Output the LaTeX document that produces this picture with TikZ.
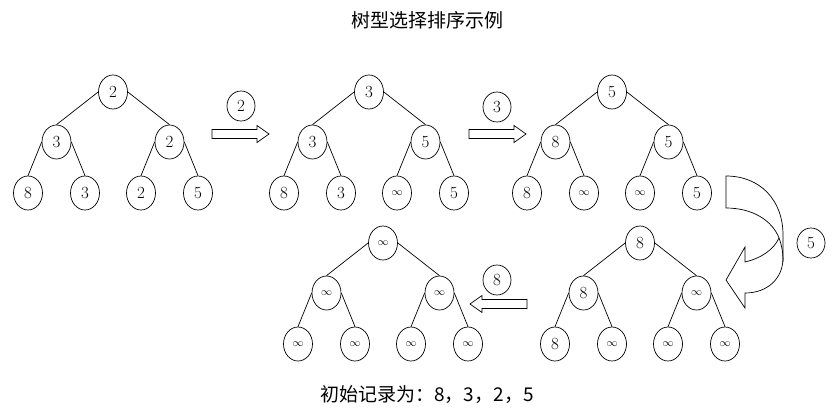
\documentclass[tikz,border=0pt]{standalone}
\usepackage{fontspec}
\newfontfamily\cjk{Noto Sans CJK SC}
\usetikzlibrary{shapes.geometric}
\newcommand\myinf{{\fontsize{11}{12}\selectfont$\infty$}}
\tikzset{
  nd/.style={ellipse, draw, line width=0.7pt, minimum width=29pt, minimum height=34pt, inner sep=0pt, font=\fontsize{17}{20}\selectfont},
  lbl/.style={ellipse, draw, line width=0.7pt, minimum width=28pt, minimum height=30pt, inner sep=0pt, font=\fontsize{17}{20}\selectfont},
  link/.style={line width=0.7pt},
  blk/.style={draw, fill=white, line width=0.7pt, line join=miter},
}
\newcommand\drawtree[8]{%
  \node[nd] (#1r) at (0,0) {#2};
  \node[nd] (#1a) at (-56.5,50) {#3};
  \node[nd] (#1b) at (56.5,50) {#4};
  \node[nd] (#1c) at (-85,101) {#5};
  \node[nd] (#1d) at (-28,101) {#6};
  \node[nd] (#1e) at (28,101) {#7};
  \node[nd] (#1f) at (85,101) {#8};
  \draw[link] (#1r.west) -- (#1a.north);
  \draw[link] (#1r.east) -- (#1b.north);
  \draw[link] (#1a.west) -- (#1c.north);
  \draw[link] (#1a.east) -- (#1d.north);
  \draw[link] (#1b.west) -- (#1e.north);
  \draw[link] (#1b.east) -- (#1f.north);
}
\newcommand\blockarrow{%
  \draw[blk] (0,-4.5) -- (45,-4.5) -- (45,-8.5) -- (57,0) -- (45,8.5) -- (45,4.5) -- (0,4.5) -- cycle;
}
\begin{document}
\begin{tikzpicture}[x=1pt,y=-1pt]
\useasboundingbox (0,0) rectangle (835,409);
\node[font=\cjk\fontsize{19}{22}\selectfont] (title) at (427,20) {树型选择排序示例};
\begin{scope}[shift={(113,92)}]
  \drawtree{a}{2}{3}{2}{8}{3}{2}{5}
\end{scope}
\begin{scope}[shift={(369,92)}]
  \drawtree{b}{3}{3}{5}{8}{3}{\myinf}{5}
\end{scope}
\begin{scope}[shift={(612,92)}]
  \drawtree{c}{5}{8}{5}{8}{\myinf}{\myinf}{5}
\end{scope}
\begin{scope}[shift={(640,243)}]
  \drawtree{d}{8}{8}{\myinf}{8}{\myinf}{\myinf}{\myinf}
\end{scope}
\begin{scope}[shift={(383,243)}]
  \drawtree{e}{\myinf}{\myinf}{\myinf}{\myinf}{\myinf}{\myinf}{\myinf}
\end{scope}
% straight block arrows
\begin{scope}[shift={(212,134)}]\blockarrow\end{scope}
\begin{scope}[shift={(469,134)}]\blockarrow\end{scope}
\begin{scope}[shift={(527,304)},xscale=-1]\blockarrow\end{scope}
% labels
\node[lbl] (l2) at (241,106) {2};
\node[lbl] (l3) at (497,107) {3};
\node[lbl] (l8) at (497,280) {8};
\node[lbl] (l5) at (811,243) {5};
% curved arrow
\draw[blk] (726,176) .. controls (760,176) and (783,200) .. (783,235)
  -- (783,258) .. controls (783,278) and (768,293) .. (745,293)
  -- (745,308) -- (726,280) -- (745,247) -- (745,262)
  .. controls (762,258) and (774,249) .. (779,238)
  .. controls (772,220) and (752,208) .. (726,208) -- cycle;
\draw[link] (779,238) .. controls (782,246) and (783,252) .. (783,262);
% bottom text
\node[font=\cjk\fontsize{19}{22}\selectfont] (rec) at (427,395) {初始记录为：8，3，2，5};
\end{tikzpicture}
\end{document}
